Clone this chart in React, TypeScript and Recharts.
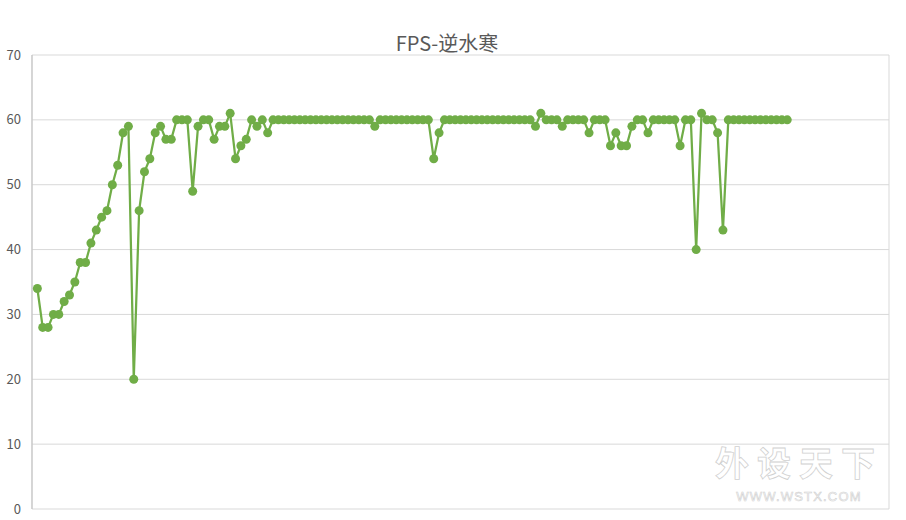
import { LineChart, Line, XAxis, YAxis, CartesianGrid } from "recharts";

const TITLE = "FPS-逆水寒";
const LINE_COLOR = "#70ad47";

// fps per sample (samples 1..141)
const fpsStart = [34, 28, 28, 30, 30, 32, 33, 35, 38, 38, 41, 43, 45, 46, 50, 53, 58, 59, 20, 46];
const fpsEarly = [52, 54, 58, 59, 57, 57, 60, 60, 60, 49, 59, 60, 60, 57, 59, 59, 61, 54, 56, 57, 60, 59, 60, 58];
const fpsMiddle = [
  60, 60, 60, 60, 60, 60, 60, 60, 60, 60, 60, 60, 60, 60, 60, 60, 60, 60, 60, 59,
  60, 60, 60, 60, 60, 60, 60, 60, 60, 60, 54, 58,
  60, 60, 60, 60, 60, 60, 60, 60, 60, 60, 60, 60, 60, 60, 60, 60, 60,
];
const fpsLate = [
  59, 61, 60, 60, 60, 59, 60, 60, 60, 60, 58, 60, 60, 60, 56, 58, 56, 56, 59, 60, 60, 58,
  60, 60, 60, 60, 60, 56, 60, 60, 40, 61, 60, 60, 58, 43,
  60, 60, 60, 60, 60, 60, 60, 60, 60, 60, 60, 60,
];
const fpsValues = [...fpsStart, ...fpsEarly, ...fpsMiddle, ...fpsLate];

const xTicks = [0, 20, 40, 60, 80, 100, 120, 140, 160];
const yTicks = [0, 10, 20, 30, 40, 50, 60, 70];

const data = fpsValues.map((fps, i) => ({ sample: i + 1, fps }));

export default function App() {
  return (
    <div style={{ position: "absolute", left: 0, top: 0, width: 906, height: 520, background: "#fff", overflow: "hidden" }}>
      <div
        style={{
          position: "absolute", left: 0, top: 30, width: 894, textAlign: "center",
          fontFamily: "'Noto Sans CJK SC', 'Noto Sans', sans-serif", fontSize: 20, color: "#595959", lineHeight: "26px",
        }}
      >
        {TITLE}
      </div>
      <LineChart width={906} height={520} data={data} margin={{ top: 55, right: 17, bottom: 11, left: 0 }}>
        <CartesianGrid stroke="#d9d9d9" strokeWidth={1} />
        <XAxis
          dataKey="sample"
          type="number"
          domain={[0, 160]}
          ticks={xTicks}
          tick={false}
          tickLine={false}
          axisLine={{ stroke: "#d9d9d9" }}
          height={0}
        />
        <YAxis
          type="number"
          domain={[0, 70]}
          ticks={yTicks}
          width={32}
          tickLine={false}
          tickMargin={5}
          axisLine={{ stroke: "#bfbfbf" }}
          tick={{ fontSize: 13, fill: "#595959", fontFamily: "'Noto Sans CJK SC', 'Noto Sans', sans-serif" }}
        />
        <Line
          dataKey="fps"
          stroke={LINE_COLOR}
          strokeWidth={2.25}
          dot={{ r: 4.5, fill: LINE_COLOR, stroke: "none" }}
          activeDot={false}
          isAnimationActive={false}
        />
      </LineChart>
      <svg width={906} height={520} style={{ position: "absolute", left: 0, top: 0, pointerEvents: "none" }}>
        <text
          x={799} y={476} textAnchor="middle"
          fontFamily="'Noto Sans CJK SC', sans-serif" fontWeight={700} fontSize={34} letterSpacing={8}
          fill="#ffffff" stroke="#d0d0d0" strokeWidth={0.8}
        >
          外设天下
        </text>
        <text
          x={799} y={501} textAnchor="middle"
          fontFamily="'Liberation Sans', sans-serif" fontSize={13} letterSpacing={1.2}
          fill="#ffffff" stroke="#d0d0d0" strokeWidth={0.6}
        >
          WWW.WSTX.COM
        </text>
      </svg>
    </div>
  );
}
